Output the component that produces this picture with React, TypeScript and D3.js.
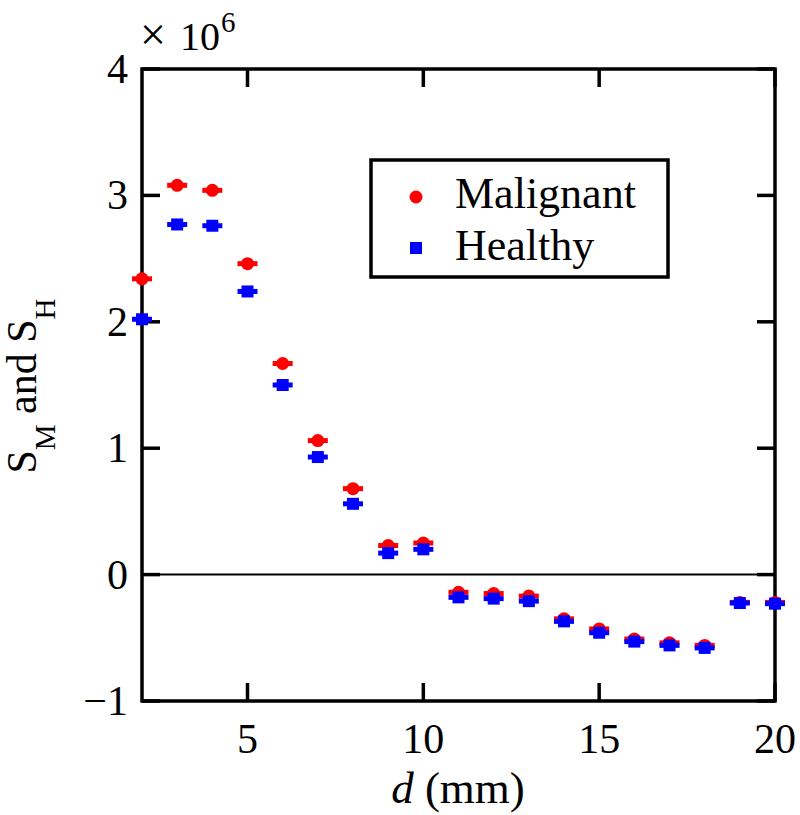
import React from "react";
import * as d3 from "d3";

const distances = [2, 3, 4, 5, 6, 7, 8, 9, 10, 11, 12, 13, 14, 15, 16, 17, 18, 19, 20];
const malignant = [2.34, 3.08, 3.04, 2.46, 1.67, 1.06, 0.68, 0.23, 0.25, -0.14, -0.15, -0.17, -0.35, -0.43, -0.51, -0.54, -0.56, -0.22, -0.22];
const healthy = [2.02, 2.77, 2.76, 2.24, 1.5, 0.93, 0.56, 0.17, 0.2, -0.18, -0.19, -0.21, -0.37, -0.46, -0.53, -0.56, -0.58, -0.225, -0.23];
const xTicks = [5, 10, 15, 20];
const yTicks = [-1, 0, 1, 2, 3, 4];
const seriesNames = ["Malignant", "Healthy"];

const FONT = "'Liberation Serif', 'Times New Roman', serif";

export default function App() {
  const W = 800, H = 815;
  const left = 142, right = 775, top = 69, bottom = 701;
  const x = d3.scaleLinear().domain([2, 20]).range([left, right]);
  const y = d3.scaleLinear().domain([-1, 4]).range([bottom, top]);
  const tickLen = 18;
  const axisW = 3.5;

  return (
    <svg width={W} height={H} style={{ position: "absolute", left: 0, top: 0, background: "#fff" }} fontFamily={FONT}>
      {/* zero line */}
      <line x1={x(2)} x2={x(20)} y1={y(0)} y2={y(0)} stroke="#000" strokeWidth={2} />
      {/* ticks */}
      {xTicks.map((t) => (
        <g key={"xt" + t}>
          <line x1={x(t)} x2={x(t)} y1={bottom} y2={bottom - tickLen} stroke="#000" strokeWidth={axisW} />
          <line x1={x(t)} x2={x(t)} y1={top} y2={top + tickLen} stroke="#000" strokeWidth={axisW} />
          <text x={x(t)} y={753} fontSize={42} textAnchor="middle">{t}</text>
        </g>
      ))}
      {yTicks.map((t) => (
        <g key={"yt" + t}>
          <line x1={left} x2={left + tickLen} y1={y(t)} y2={y(t)} stroke="#000" strokeWidth={axisW} />
          <line x1={right} x2={right - tickLen} y1={y(t)} y2={y(t)} stroke="#000" strokeWidth={axisW} />
          <text x={128} y={y(t) + 14} fontSize={42} textAnchor="end">{t < 0 ? "\u2212" + Math.abs(t) : t}</text>
        </g>
      ))}
      {/* frame */}
      <rect x={left} y={top} width={right - left} height={bottom - top} fill="none" stroke="#000" strokeWidth={axisW} />

      {/* multiplier */}
      <text x={140} y={50} fontSize={46}>{"\u00d7"}</text>
      <text x={180} y={50} fontSize={40}>10</text>
      <text x={221} y={32} fontSize={29}>6</text>

      {/* markers */}
      {distances.map((d, i) => (
        <g key={"m" + d}>
          <rect x={x(d) - 10} y={y(malignant[i]) - 2.5} width={20} height={5} fill="#ff0000" />
          <circle cx={x(d)} cy={y(malignant[i])} r={6.5} fill="#ff0000" />
        </g>
      ))}
      {distances.map((d, i) => (
        <g key={"h" + d}>
          <rect x={x(d) - 10} y={y(healthy[i]) - 2.5} width={20} height={5} fill="#0000ff" />
          <rect x={x(d) - 6} y={y(healthy[i]) - 6} width={12} height={12} fill="#0000ff" />
        </g>
      ))}

      {/* legend */}
      <rect x={371} y={160} width={297} height={117} fill="#fff" stroke="#000" strokeWidth={3.5} />
      <circle cx={416} cy={197} r={6.5} fill="#ff0000" />
      <text x={455} y={208} fontSize={44}>{seriesNames[0]}</text>
      <rect x={410} y={242} width={12} height={12} fill="#0000ff" />
      <text x={455} y={260} fontSize={44}>{seriesNames[1]}</text>

      {/* x axis title */}
      <text x={458} y={803} fontSize={45} textAnchor="middle">
        <tspan fontStyle="italic">d</tspan>
        {" (mm)"}
      </text>

      {/* y axis title */}
      <text transform="translate(36,386) rotate(-90)" fontSize={42} textAnchor="middle">
        {"S"}
        <tspan fontSize={29} dy={19}>M</tspan>
        <tspan dy={-19}>{" and S"}</tspan>
        <tspan fontSize={29} dy={19}>H</tspan>
      </text>
    </svg>
  );
}
